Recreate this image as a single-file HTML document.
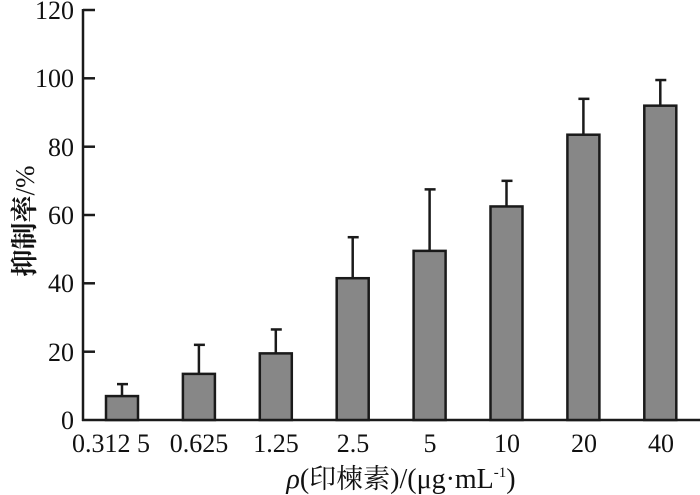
<!DOCTYPE html>
<html><head><meta charset="utf-8"><style>
html,body{margin:0;padding:0;background:#fff}
svg{display:block}
</style></head><body>
<svg width="700" height="495" viewBox="0 0 700 495" xmlns="http://www.w3.org/2000/svg" font-family="'Liberation Serif', 'Times New Roman', serif" fill="#111">
<g stroke="#1a1a1a" stroke-width="2.5" fill="none">
<line x1="83" y1="9" x2="83" y2="421"/>
<line x1="82" y1="420" x2="700" y2="420"/>
<line x1="83" y1="10" x2="95" y2="10"/>
<line x1="83" y1="78.3" x2="95" y2="78.3"/>
<line x1="83" y1="146.7" x2="95" y2="146.7"/>
<line x1="83" y1="215" x2="95" y2="215"/>
<line x1="83" y1="283.3" x2="95" y2="283.3"/>
<line x1="83" y1="351.7" x2="95" y2="351.7"/>
</g>
<g font-size="26" text-anchor="end">
<text x="74" y="19">120</text>
<text x="74" y="87">100</text>
<text x="74" y="156">80</text>
<text x="74" y="224">60</text>
<text x="74" y="292">40</text>
<text x="74" y="361">20</text>
<text x="74" y="429">0</text>
</g>
<g id="bars" stroke="#1a1a1a" stroke-width="2.5" fill="#878787"></g>
<script>
var v=[7,13.5,19.5,41.5,49.5,62.5,83.5,92],e=[10.5,22,26.5,53.5,67.5,70,94,99.5];
var g=document.getElementById('bars'),ns="http://www.w3.org/2000/svg";
function Y(a){return 420-a*3.4167;}
for(var i=0;i<8;i++){var c=122+i*76.9;
var l=document.createElementNS(ns,'line');l.setAttribute('x1',c);l.setAttribute('x2',c);l.setAttribute('y1',Y(v[i]));l.setAttribute('y2',Y(e[i]));g.appendChild(l);
var k=document.createElementNS(ns,'line');k.setAttribute('x1',c-5);k.setAttribute('x2',c+6);k.setAttribute('y1',Y(e[i]));k.setAttribute('y2',Y(e[i]));g.appendChild(k);
var r=document.createElementNS(ns,'rect');r.setAttribute('x',c-16);r.setAttribute('width',32);r.setAttribute('y',Y(v[i]));r.setAttribute('height',420-Y(v[i]));g.appendChild(r);}
</script>
<g font-size="26" text-anchor="middle">
<text x="111" y="452">0.312 5</text>
<text x="199" y="452">0.625</text>
<text x="276" y="452">1.25</text>
<text x="353" y="452">2.5</text>
<text x="430" y="452">5</text>
<text x="507" y="452">10</text>
<text x="584" y="452">20</text>
<text x="661" y="452">40</text>
</g>
<text x="401" y="488" font-size="28" text-anchor="middle"><tspan font-style="italic">ρ</tspan>(<tspan font-family="'Noto Serif CJK SC', serif" font-size="27">印楝素</tspan>)/(μg·mL<tspan font-size="15" dy="-11">-1</tspan><tspan dy="11">)</tspan></text>
<text transform="translate(34,221) rotate(-90)" font-size="27" text-anchor="middle"><tspan font-family="'Noto Serif CJK SC', serif" font-weight="bold" font-size="27">抑制率</tspan>/%</text>
</svg>
</body></html>
